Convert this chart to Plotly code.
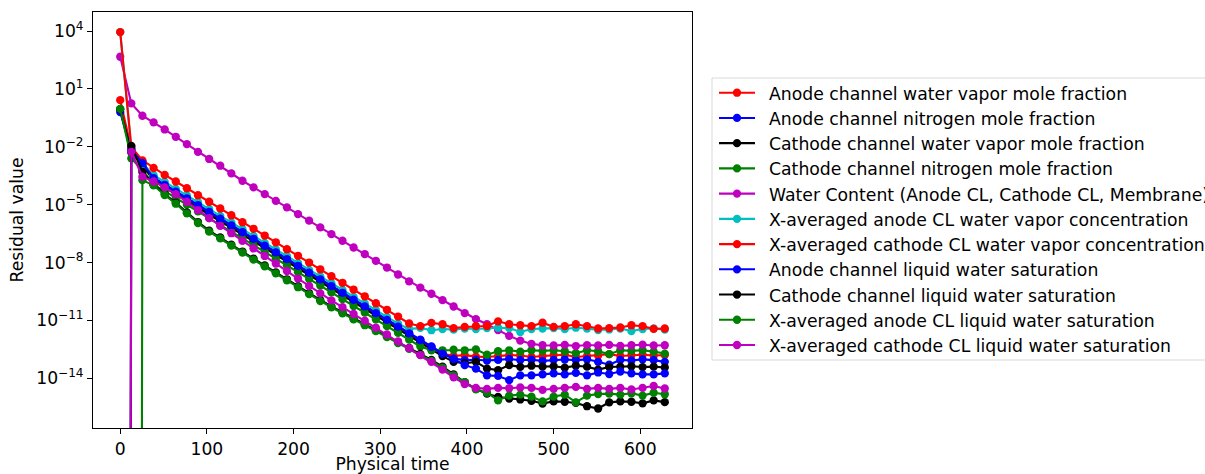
import plotly.graph_objects as go

# Physical time of each stored solver step
physical_time = [0.0, 12.8, 25.6, 38.5, 51.3, 64.1, 76.9, 89.7, 102.6, 115.4,
                 128.2, 141.0, 153.8, 166.7, 179.5, 192.3, 205.1, 217.9, 230.8, 243.6,
                 256.4, 269.2, 282.1, 294.9, 307.7, 320.5, 333.3, 346.2, 359.0, 371.8,
                 384.6, 397.4, 410.3, 423.1, 435.9, 448.7, 461.5, 474.4, 487.2, 500.0,
                 512.8, 525.6, 538.5, 551.3, 564.1, 576.9, 589.7, 602.6, 615.4, 628.2]

# Residuals as log10 exponents; None marks an exactly zero residual
anode_ch_vapor = [0.42, -2.10, -2.88, -3.65, -4.00, -4.36, -4.70, -5.05, -5.40, -5.76,
                  -6.10, -6.45, -6.80, -7.16, -7.50, -7.85, -8.20, -8.56, -8.90, -9.25,
                  -9.60, -9.96, -10.30, -10.65, -11.00, -11.35, -11.70, -12.05, -12.40, -12.72,
                  -12.85, -12.80, -12.88, -12.90, -12.85, -12.80, -12.82, -12.90, -12.85, -12.80,
                  -12.78, -12.90, -12.85, -12.82, -12.75, -12.85, -12.80, -12.78, -12.82, -12.80]
anode_ch_n2 = [-0.20, -2.20, -2.78, -3.60, -3.95, -4.31, -4.65, -5.00, -5.35, -5.71,
               -6.05, -6.40, -6.75, -7.11, -7.45, -7.80, -8.15, -8.51, -8.85, -9.20,
               -9.55, -9.91, -10.25, -10.60, -10.95, -11.30, -11.65, -12.00, -12.35, -12.70,
               -12.98, -13.06, -13.04, -13.08, -13.05, -13.00, -13.06, -13.04, -13.10, -13.05,
               -13.03, -13.06, -13.02, -13.15, -13.30, -13.05, -13.08, -13.02, -13.06, -13.15]
cathode_ch_vapor = [-0.05, -2.30, -2.95, -3.75, -4.10, -4.46, -4.80, -5.15, -5.50, -5.86,
                    -6.20, -6.55, -6.90, -7.26, -7.60, -7.95, -8.30, -8.66, -9.00, -9.35,
                    -9.70, -10.06, -10.40, -10.75, -11.10, -11.45, -11.80, -12.15, -12.50, -12.85,
                    -13.15, -13.22, -13.15, -13.50, -13.58, -13.32, -13.41, -13.35, -13.40, -13.38,
                    -13.45, -13.35, -13.40, -13.55, -13.42, -13.40, -13.38, -13.42, -13.40, -13.44]
cathode_ch_n2 = [-0.03, -2.60, -3.20, -3.95, -4.30, -4.66, -5.00, -5.35, -5.70, -6.06,
                 -6.40, -6.75, -7.10, -7.46, -7.80, -8.15, -8.50, -8.86, -9.20, -9.55,
                 -9.90, -10.26, -10.60, -10.95, -11.30, -11.65, -12.00, -12.35, -12.55, -12.55,
                 -12.52, -12.55, -12.50, -12.78, -12.60, -12.55, -12.62, -12.55, -12.58, -12.55,
                 -12.60, -12.70, -12.55, -12.60, -12.75, -12.55, -12.58, -12.55, -12.62, -12.72]
water_content = [2.67, 0.25, -0.39, -0.73, -1.10, -1.48, -1.86, -2.26, -2.63, -2.98,
                 -3.38, -3.76, -4.10, -4.45, -4.80, -5.14, -5.49, -5.83, -6.18, -6.53,
                 -6.87, -7.22, -7.56, -7.91, -8.26, -8.62, -8.98, -9.30, -9.62, -9.95,
                 -10.28, -10.62, -10.93, -11.20, -11.50, -11.80, -12.05, -12.22, -12.29, -12.30,
                 -12.27, -12.33, -12.28, -12.30, -12.27, -12.32, -12.29, -12.26, -12.30, -12.29]
anode_cl_vapor = [3.95, -2.10, -2.90, -3.47, -3.82, -4.18, -4.52, -4.87, -5.22, -5.58,
                  -5.92, -6.27, -6.62, -6.98, -7.32, -7.67, -8.02, -8.38, -8.72, -9.07,
                  -9.42, -9.78, -10.12, -10.47, -10.82, -11.17, -11.45, -11.39, -11.51, -11.45,
                  -11.48, -11.42, -11.45, -11.40, -11.38, -11.40, -11.60, -11.45, -11.42, -11.40,
                  -11.45, -11.38, -11.42, -11.50, -11.47, -11.42, -11.55, -11.45, -11.42, -11.48]
cathode_cl_vapor = [3.95, -2.00, -2.70, -3.10, -3.46, -3.80, -4.15, -4.51, -4.85, -5.20,
                    -5.55, -5.91, -6.25, -6.60, -6.95, -7.31, -7.65, -8.00, -8.35, -8.71,
                    -9.05, -9.40, -9.75, -10.11, -10.45, -10.80, -11.16, -11.30, -11.13, -11.20,
                    -11.40, -11.34, -11.30, -11.29, -11.05, -11.20, -11.25, -11.30, -11.12, -11.34,
                    -11.30, -11.20, -11.30, -11.42, -11.40, -11.37, -11.25, -11.30, -11.44, -11.42]
anode_ch_liquid = [None, -2.15, -2.85, -3.62, -3.97, -4.33, -4.67, -5.02, -5.37, -5.73,
                   -6.07, -6.42, -6.77, -7.13, -7.47, -7.82, -8.17, -8.53, -8.87, -9.22,
                   -9.57, -9.93, -10.27, -10.62, -10.97, -11.32, -11.67, -12.02, -12.37, -12.72,
                   -13.00, -13.32, -13.50, -13.85, -13.88, -14.10, -13.85, -13.85, -13.80, -13.75,
                   -13.80, -13.72, -13.85, -13.70, -13.78, -13.65, -13.75, -13.80, -13.80, -13.75]
cathode_ch_liquid = [None, -1.95, -3.30, -3.95, -4.45, -4.90, -5.40, -5.90, -6.35, -6.70,
                     -7.07, -7.43, -7.80, -8.15, -8.51, -8.87, -9.23, -9.59, -9.95, -10.27,
                     -10.58, -10.90, -11.20, -11.51, -11.82, -12.13, -12.43, -12.74, -13.05, -13.40,
                     -13.80, -14.20, -14.55, -14.80, -14.97, -15.05, -15.10, -15.17, -15.31, -15.20,
                     -15.22, -15.28, -15.45, -15.57, -15.25, -15.20, -15.22, -15.30, -15.15, -15.24]
anode_cl_liquid = [None, None, -3.73, -4.00, -4.50, -4.95, -5.45, -5.95, -6.40, -6.75,
                   -7.12, -7.48, -7.85, -8.20, -8.56, -8.92, -9.28, -9.64, -10.00, -10.32,
                   -10.63, -10.95, -11.25, -11.56, -11.87, -12.18, -12.48, -12.79, -13.10, -13.45,
                   -13.85, -14.20, -14.58, -14.75, -15.15, -14.90, -14.85, -14.95, -15.20, -14.95,
                   -14.85, -15.25, -14.90, -14.82, -14.80, -14.85, -14.78, -14.90, -14.75, -14.83]
cathode_cl_liquid = [None, -2.26, -3.55, -3.80, -4.10, -4.45, -4.85, -5.28, -5.70, -6.10,
                     -6.48, -6.88, -7.27, -7.66, -8.05, -8.44, -8.83, -9.22, -9.60, -9.96,
                     -10.31, -10.67, -11.02, -11.38, -11.73, -12.09, -12.44, -12.80, -13.15, -13.55,
                     -13.95, -14.30, -14.50, -14.55, -14.50, -14.52, -14.48, -14.50, -14.60, -14.55,
                     -14.50, -14.45, -14.55, -14.50, -14.55, -14.50, -14.58, -14.50, -14.40, -14.53]

series_names = [
    "Anode channel water vapor mole fraction",
    "Anode channel nitrogen mole fraction",
    "Cathode channel water vapor mole fraction",
    "Cathode channel nitrogen mole fraction",
    "Water Content (Anode CL, Cathode CL, Membrane)",
    "X-averaged anode CL water vapor concentration",
    "X-averaged cathode CL water vapor concentration",
    "Anode channel liquid water saturation",
    "Cathode channel liquid water saturation",
    "X-averaged anode CL liquid water saturation",
    "X-averaged cathode CL liquid water saturation",
]
series_exponents = [anode_ch_vapor, anode_ch_n2, cathode_ch_vapor, cathode_ch_n2,
                    water_content, anode_cl_vapor, cathode_cl_vapor, anode_ch_liquid,
                    cathode_ch_liquid, anode_cl_liquid, cathode_cl_liquid]
series_colors = ["#ff0000", "#0000ff", "#000000", "#008000", "#bf00bf", "#00bfbf",
                 "#ff0000", "#0000ff", "#000000", "#008000", "#bf00bf"]

# Non-positive residuals cannot sit on a log axis: clip them to a tiny floor
# so the line drops straight off the bottom of the axes.
FLOOR = 1e-300


def to_residual(exps):
    return [FLOOR if e is None else 10.0 ** e for e in exps]


FONT = "DejaVu Sans, Liberation Sans, sans-serif"
AXIS_FS = 17.2
LEGEND_FS = 17.25
LINE_W = 2.1
MARKER_D = 8.3

# Figure / axes geometry in pixels
W, H = 1205, 474
AX_L, AX_R, AX_T, AX_B = 93, 692, 12, 428


def px_to_paper_x(px):
    return (px - AX_L) / (AX_R - AX_L)


def px_to_paper_y(py):
    return (AX_B - py) / (AX_B - AX_T)


fig = go.Figure()
for name, exps, color in zip(series_names, series_exponents, series_colors):
    fig.add_trace(go.Scatter(
        x=physical_time, y=to_residual(exps), name=name,
        mode="lines+markers",
        line=dict(color=color, width=LINE_W),
        marker=dict(color=color, size=MARKER_D, symbol="circle"),
        cliponaxis=True, showlegend=False,
    ))

# Legend box beside the axes (handles drawn as line + dot, labels as text)
LEG_LEFT, LEG_TOP, LEG_BOTTOM, LEG_RIGHT = 712, 78, 360, 1215
ROW0, ROW_STEP = 92.7, 25.23
HANDLE_X0, HANDLE_X1, TEXT_X = 719, 755, 767

shapes = [dict(
    type="rect", xref="paper", yref="paper", layer="below",
    x0=px_to_paper_x(LEG_LEFT), x1=px_to_paper_x(LEG_RIGHT),
    y0=px_to_paper_y(LEG_BOTTOM), y1=px_to_paper_y(LEG_TOP),
    line=dict(color="#d9d9d9", width=1), fillcolor="rgba(255,255,255,0.8)",
)]
annotations = []
for i, (name, color) in enumerate(zip(series_names, series_colors)):
    yc = ROW0 + i * ROW_STEP
    yp = px_to_paper_y(yc)
    shapes.append(dict(
        type="line", xref="paper", yref="paper",
        x0=px_to_paper_x(HANDLE_X0), x1=px_to_paper_x(HANDLE_X1), y0=yp, y1=yp,
        line=dict(color=color, width=LINE_W),
    ))
    shapes.append(dict(
        type="circle", xref="paper", yref="paper",
        xsizemode="pixel", ysizemode="pixel",
        xanchor=px_to_paper_x((HANDLE_X0 + HANDLE_X1) / 2), yanchor=yp,
        x0=-MARKER_D / 2, x1=MARKER_D / 2, y0=-MARKER_D / 2, y1=MARKER_D / 2,
        fillcolor=color, line=dict(width=0),
    ))
    annotations.append(dict(
        text=name, xref="paper", yref="paper",
        x=px_to_paper_x(TEXT_X), y=px_to_paper_y(yc + 1),
        xanchor="left", yanchor="middle", showarrow=False,
        font=dict(family=FONT, size=LEGEND_FS, color="black"),
    ))

y_exps = [4, 1, -2, -5, -8, -11, -14]
y_tickvals = [10.0 ** e for e in y_exps]
y_ticktext = ["10<sup>%s</sup>" % (str(e).replace("-", "\u2212")) for e in y_exps]

fig.update_layout(
    width=W, height=H,
    margin=dict(l=AX_L, r=W - AX_R, t=AX_T, b=H - AX_B, autoexpand=False),
    paper_bgcolor="white", plot_bgcolor="white",
    font=dict(family=FONT, size=AXIS_FS, color="black"),
    showlegend=False,
    shapes=shapes,
    annotations=annotations,
    xaxis=dict(
        range=[-31.4, 659.6],
        tickvals=[0, 100, 200, 300, 400, 500, 600],
        ticks="outside", ticklen=5, tickwidth=1.1, tickcolor="black",
        showline=True, linecolor="black", linewidth=1.1, mirror=True,
        showgrid=False, zeroline=False,
        tickfont=dict(family=FONT, size=AXIS_FS, color="black"),
        title=dict(text="Physical time", font=dict(family=FONT, size=AXIS_FS, color="black"), standoff=5),
    ),
    yaxis=dict(
        type="log",
        range=[-16.58, 4.99],
        tickvals=y_tickvals, ticktext=y_ticktext,
        ticks="outside", ticklen=5, tickwidth=1.1, tickcolor="black",
        showline=True, linecolor="black", linewidth=1.1, mirror=True,
        showgrid=False, zeroline=False,
        tickfont=dict(family=FONT, size=AXIS_FS, color="black"),
        title=dict(text="Residual value", font=dict(family=FONT, size=AXIS_FS, color="black"), standoff=8),
    ),
)

fig.write_html("out.html")
